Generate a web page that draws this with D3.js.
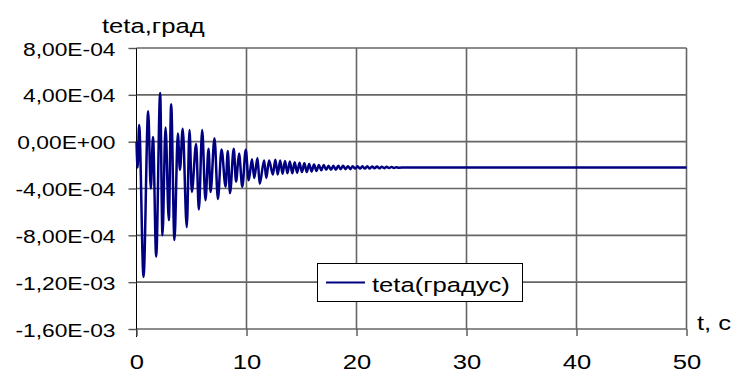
<!DOCTYPE html>
<html>
<head>
<meta charset="utf-8">
<script src="https://cdn.jsdelivr.net/npm/d3@7"></script>
<style>
  html, body { margin: 0; padding: 0; background: #fff; }
  svg { display: block; font-family: "Liberation Sans", Arial, sans-serif; }
</style>
</head>
<body>
<svg id="chart" width="734" height="374"></svg>
<script>
// time (s) of each turning point
const tVals = [
  0, 0.1, 0.24, 0.64, 1.06, 1.3, 1.5, 1.79, 2.15, 2.36, 2.64, 2.94, 3.15, 3.45,
  3.76, 3.95, 4.2, 4.57, 4.82, 5.03, 5.42, 5.67, 5.97, 6.27, 6.55, 6.73, 7.09,
  7.4, 7.73, 8.1, 8.3, 8.5, 8.84, 9.05, 9.32, 9.62, 9.93, 10.2, 10.5, 10.7,
  11.0, 11.2, 11.6, 11.8, 12.05, 12.4, 12.62, 12.84, 13.06, 13.28, 13.5, 13.72,
  13.94, 14.16, 14.38, 14.6, 14.82, 15.04, 15.26, 15.48, 15.7, 15.92, 16.14,
  16.36, 16.58, 16.8, 17.02, 17.24, 17.46, 17.68, 17.9, 18.12, 18.34, 18.56,
  18.78, 19.0, 19.22, 19.44, 19.66, 19.88, 20.1, 20.32, 20.54, 20.76, 20.98,
  21.2, 21.42, 21.64, 21.86, 22.08, 22.3, 22.52, 22.74, 22.96, 23.18, 23.4,
  23.62, 23.84, 24.5, 50
];
// teta (degrees) at those times
const tetaVals = [
  0, -2.2e-4, 1.42e-4, -1.155e-3, 2.6e-4, -4.0e-4, 0.4e-4, -9.8e-4, 4.15e-4,
  -8.0e-4, 1.2e-4, -6.7e-4, 3.2e-4, -8.4e-4, 0.7e-4, -2.4e-4, 1.1e-4, -7.3e-4,
  1.0e-4, -4.3e-4, -0.2e-4, -5.8e-4, 1.0e-4, -5.0e-4, -0.6e-4, -4.3e-4, 0.3e-4,
  -4.9e-4, -0.66e-4, -3.85e-4, -0.8e-4, -4.4e-4, -0.6e-4, -3.4e-4, -1.0e-4,
  -3.85e-4, -0.7e-4, -3.3e-4, -1.5e-4, -3.1e-4, -1.4e-4, -3.6e-4, -1.6e-4,
  -3.1e-4, -1.6e-4, -2.8e-4, -1.55e-4, -2.8e-4, -1.6e-4, -2.75e-4, -1.65e-4,
  -2.7e-4, -1.7e-4, -2.7e-4, -1.75e-4, -2.65e-4, -1.8e-4, -2.6e-4, -1.85e-4,
  -2.6e-4, -1.9e-4, -2.55e-4, -1.95e-4, -2.5e-4, -2.0e-4, -2.45e-4, -2.0e-4,
  -2.4e-4, -2.05e-4, -2.4e-4, -2.05e-4, -2.4e-4, -2.05e-4, -2.35e-4, -2.05e-4,
  -2.35e-4, -2.1e-4, -2.35e-4, -2.1e-4, -2.3e-4, -2.1e-4, -2.3e-4, -2.1e-4,
  -2.3e-4, -2.1e-4, -2.3e-4, -2.12e-4, -2.28e-4, -2.12e-4, -2.28e-4, -2.14e-4,
  -2.26e-4, -2.15e-4, -2.25e-4, -2.16e-4, -2.24e-4, -2.18e-4, -2.22e-4,
  -2.2e-4, -2.2e-4
];
const xTicks = [0, 10, 20, 30, 40, 50];
const yTicks = [-1.6e-3, -1.2e-3, -8e-4, -4e-4, 0, 4e-4, 8e-4];
const seriesName = "teta(градус)";
const yTitle = "teta,град";
const xTitle = "t, c";

const data = tVals.map((t, i) => ({ t, v: tetaVals[i] }));

const svg = d3.select("#chart");
const stretch = 1.25; // text in the picture is drawn wide

const x = d3.scaleLinear().domain([0, 50]).range([136.5, 686.5]);
const y = d3.scaleLinear().domain([-1.6e-3, 8e-4]).range([329, 48]);

// "8,00E-04" style labels
function fmt(v) {
  const [m, e] = v.toExponential(2).split("e");
  const n = Math.abs(+e);
  return m.replace(".", ",") + "E" + (+e < 0 ? "-" : "+") + (n < 10 ? "0" : "") + n;
}

const grid = svg.append("g").attr("stroke", "#666").attr("stroke-width", 1.6);
grid.selectAll("line.h")
  .data(yTicks)
  .join("line")
  .attr("class", "h")
  .attr("x1", x(0)).attr("x2", x(50))
  .attr("y1", (d) => y(d)).attr("y2", (d) => y(d));
grid.selectAll("line.v")
  .data(xTicks.slice(1))
  .join("line")
  .attr("class", "v")
  .attr("x1", (d) => x(d)).attr("x2", (d) => x(d))
  .attr("y1", y(8e-4)).attr("y2", y(-1.6e-3));

// y axis
const gy = svg.append("g")
  .attr("transform", `translate(${x(0)},0)`)
  .call(d3.axisLeft(y).tickValues(yTicks).tickFormat(fmt).tickSize(8).tickPadding(9));
gy.select(".domain").attr("stroke", "#000").attr("stroke-width", 1)
  .attr("d", `M0,${y(8e-4)}V${y(-1.6e-3) + 8}`);
gy.selectAll(".tick line").attr("stroke", "#555").attr("stroke-width", 1.4);
gy.selectAll(".tick text")
  .attr("fill", "#000")
  .attr("x", -17.5)
  .style("font-size", "19px")
  .attr("dy", "0.37em")
  .attr("transform", "scale(1.2,1)");

// x axis
const gx = svg.append("g")
  .attr("transform", `translate(0,${y(-1.6e-3)})`)
  .call(d3.axisBottom(x).tickValues(xTicks).tickFormat(d3.format("d")).tickSize(7).tickPadding(18));
gx.select(".domain").remove();
gx.selectAll(".tick line").attr("stroke", "#555").attr("stroke-width", 1.4);
gx.selectAll(".tick text")
  .attr("fill", "#000")
  .style("font-size", "20.5px")
  .attr("transform", `scale(${stretch},1)`);

// series
const line = d3.line().curve(d3.curveMonotoneX).x((d) => x(d.t)).y((d) => y(d.v));
svg.append("path")
  .datum(data)
  .attr("fill", "none")
  .attr("stroke", "#000080")
  .attr("stroke-width", 2.5)
  .attr("stroke-linejoin", "round")
  .attr("d", line);

// titles
svg.append("text")
  .attr("transform", `translate(102,33) scale(${stretch},1)`)
  .style("font-size", "20.5px")
  .text(yTitle);
svg.append("text")
  .attr("transform", `translate(697,330) scale(${stretch},1)`)
  .style("font-size", "20.5px")
  .text(xTitle);

// legend
const lg = svg.append("g").attr("transform", "translate(317,263)");
lg.append("rect")
  .attr("x", 0.5).attr("y", 0.5)
  .attr("width", 205).attr("height", 38)
  .attr("fill", "#fff").attr("stroke", "#000").attr("stroke-width", 1);
lg.append("line")
  .attr("x1", 9).attr("x2", 48)
  .attr("y1", 19.5).attr("y2", 19.5)
  .attr("stroke", "#000080").attr("stroke-width", 2.2);
lg.append("text")
  .attr("transform", `translate(55,28.5) scale(${stretch},1)`)
  .style("font-size", "20.5px")
  .text(seriesName);
</script>
</body>
</html>
